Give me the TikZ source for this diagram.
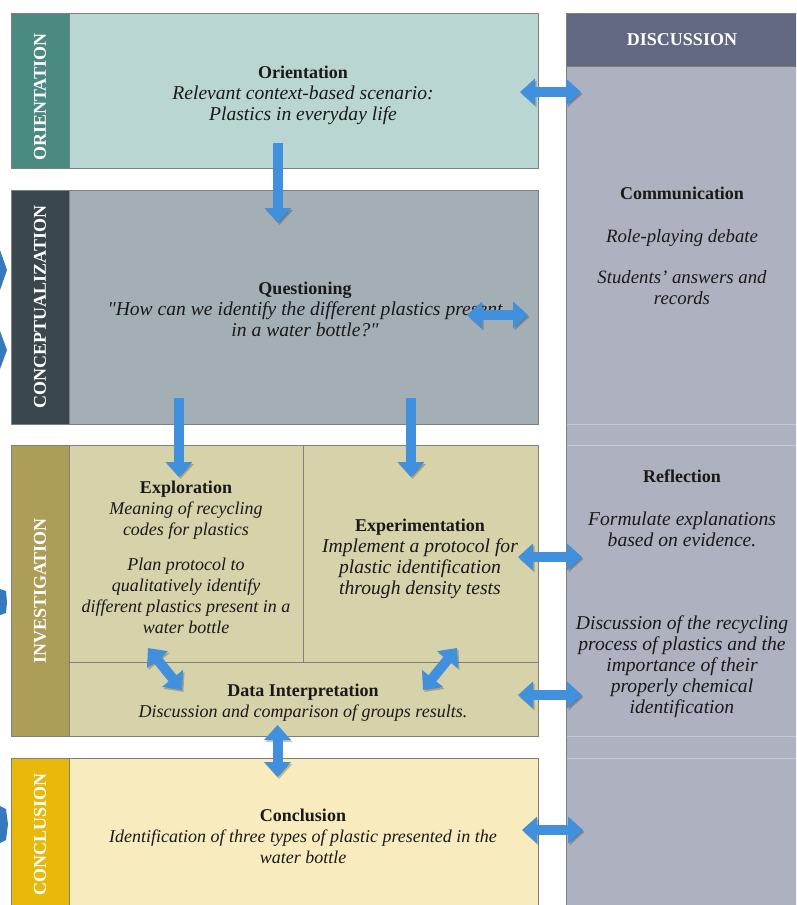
\documentclass[tikz,border=0pt]{standalone}
\usepackage{fontspec}
\setmainfont{Liberation Serif}[Ligatures=TeXOff]
\usetikzlibrary{arrows.meta}
\definecolor{orLblC}{HTML}{4A8A80}
\definecolor{orBodyC}{HTML}{B9D6D2}
\definecolor{coLblC}{HTML}{3A484E}
\definecolor{coBodyC}{HTML}{A4AFB5}
\definecolor{inLblC}{HTML}{AC9D58}
\definecolor{inBodyC}{HTML}{D6D2AA}
\definecolor{clLblC}{HTML}{E8B90A}
\definecolor{clBodyC}{HTML}{F8ECBE}
\definecolor{dsHeadC}{HTML}{636882}
\definecolor{dsBodyC}{HTML}{AEB1C0}
\definecolor{dsLineC}{HTML}{C6C8D4}
\definecolor{arrowC}{HTML}{4090DE}
\definecolor{edgeC}{HTML}{7F7F7F}
\tikzset{
  box/.style={draw=edgeC, line width=0.8pt, inner sep=0pt, outer sep=0pt, anchor=north west},
  lbltext/.style={text=white, font=\fontsize{18}{21}\selectfont\bfseries, rotate=90},
  bodytext/.style={align=center, text=black!90, font=\fontsize{18}{21}\selectfont\itshape, inner sep=0pt},
  widetext/.style={bodytext, font=\fontsize{19.6}{21}\selectfont\itshape},
  flow/.style={draw=arrowC, line width=10pt, -{Triangle[width=26pt,length=15pt]},
    preaction={draw=black, opacity=.22, transform canvas={xshift=1.5pt,yshift=-2pt}}},
  flowboth/.style={draw=arrowC, line width=10pt, {Triangle[width=26pt,length=15pt]}-{Triangle[width=26pt,length=15pt]},
    preaction={draw=black, opacity=.22, transform canvas={xshift=1.5pt,yshift=-2pt}}},
}
\newcommand{\ttl}[1]{{\fontsize{18}{21}\selectfont\upshape\bfseries #1}}
\begin{document}
\begin{tikzpicture}[x=1pt,y=-1pt]
\useasboundingbox (0,0) rectangle (796,905);
\clip (0,0) rectangle (796,905);
\fill[white] (0,0) rectangle (796,905);

% partial shapes at the left edge
\fill[arrowC!85!black] (0,250) -- (7,270) -- (0,290) -- cycle;
\fill[arrowC!85!black] (0,331) -- (7,350) -- (0,369) -- cycle;
\fill[arrowC!85!black] (0,589) -- (6,591) -- (7,602) -- (6,613) -- (0,615) -- cycle;
\fill[arrowC!85!black] (0,806) -- (6,809) -- (8,824) -- (6,840) -- (0,843) -- cycle;

% discussion column
\node[box, fill=dsBodyC, minimum width=240pt, minimum height=850pt] (dsBody) at (566,66) {};
\node[box, fill=dsHeadC, minimum width=240pt, minimum height=53pt] (dsHead) at (566,13) {};
\draw[dsLineC, line width=0.8pt] (567,424) -- (796,424) (567,445) -- (796,445) (567,736) -- (796,736) (567,758) -- (796,758);
\node[text=white, font=\fontsize{18}{21}\selectfont\bfseries] (dsTitle) at (682,40) {DISCUSSION};

% orientation
\node[box, fill=orBodyC, minimum width=469pt, minimum height=155pt] (orBody) at (69,13) {};
\node[box, fill=orLblC, minimum width=58pt, minimum height=155pt] (orLbl) at (11,13) {};
\node[lbltext] (orLblT) at (40,97) {ORIENTATION};
\node[widetext] (orT) at (303,95) {\ttl{Orientation}\\Relevant context-based scenario:\\Plastics in everyday life};

% conceptualization
\node[box, fill=coBodyC, minimum width=469pt, minimum height=234pt] (coBody) at (69,190) {};
\node[box, fill=coLblC, minimum width=58pt, minimum height=234pt] (coLbl) at (11,190) {};
\node[lbltext] (coLblT) at (40,307) {CONCEPTUALIZATION};
\node[widetext] (coT) at (305,309) {\ttl{Questioning}\\"How can we identify the different plastics present\\in a water bottle?"};

% investigation
\node[box, fill=inBodyC, minimum width=234pt, minimum height=217pt] (exBody) at (69,445) {};
\node[box, fill=inBodyC, minimum width=235pt, minimum height=217pt] (xpBody) at (303,445) {};
\node[box, fill=inBodyC, minimum width=469pt, minimum height=74pt] (diBody) at (69,662) {};
\node[box, fill=inLblC, minimum width=58pt, minimum height=291pt] (inLbl) at (11,445) {};
\node[lbltext] (inLblT) at (40,591) {INVESTIGATION};
\node[bodytext] (exT) at (186,557) {\ttl{Exploration}\\Meaning of recycling\\codes for plastics\\[14pt]Plan protocol to\\qualitatively identify\\different plastics present in a\\water bottle};
\node[widetext] (xpT) at (420,558.5) {\ttl{Experimentation}\\Implement a protocol for\\plastic identification\\through density tests};
\node[bodytext] (diT) at (303,703) {\ttl{Data Interpretation}\\Discussion and comparison of groups results.};

% conclusion
\node[box, fill=clBodyC, minimum width=469pt, minimum height=160pt] (clBody) at (69,758) {};
\node[box, fill=clLblC, minimum width=58pt, minimum height=160pt] (clLbl) at (11,758) {};
\node[lbltext] (clLblT) at (40,834) {CONCLUSION};
\node[bodytext] (clT) at (303,836) {\ttl{Conclusion}\\Identification of three types of plastic presented in the\\water bottle};

% discussion texts
\node[bodytext, font=\fontsize{18.8}{21}\selectfont\itshape] (cmT) at (682,245.5) {\ttl{Communication}\\[22pt]Role-playing debate\\[20pt]Students’ answers and\\records};
\node[widetext] (rfT) at (682,594) {\ttl{Reflection}\\[22pt]Formulate explanations\\based on evidence.\\[62pt]Discussion of the recycling\\process of plastics and the\\importance of their\\properly chemical\\identification};

% arrow end points
\coordinate (a1s) at (278,143); \coordinate (a1e) at (278,223);
\coordinate (a2s) at (520,92);  \coordinate (a2e) at (581,92);
\coordinate (a3s) at (467,315); \coordinate (a3e) at (528,315);
\coordinate (a4s) at (179,398); \coordinate (a4e) at (179,477);
\coordinate (a5s) at (411,398); \coordinate (a5e) at (411,477);
\coordinate (a6s) at (148,648); \coordinate (a6e) at (182,690);
\coordinate (a7s) at (457,648); \coordinate (a7e) at (423,690);
\coordinate (a8s) at (518,557); \coordinate (a8e) at (582,557);
\coordinate (a9s) at (518,695); \coordinate (a9e) at (582,695);
\coordinate (a10s) at (277.5,725); \coordinate (a10e) at (277.5,777);
\coordinate (a11s) at (522,830); \coordinate (a11e) at (583,830);

\draw[flow] (a1s) -- (a1e);
\draw[flowboth] (a2s) -- (a2e);
\draw[flowboth] (a3s) -- (a3e);
\draw[flow] (a4s) -- (a4e);
\draw[flow] (a5s) -- (a5e);
\draw[flowboth] (a6s) -- (a6e);
\draw[flowboth] (a7s) -- (a7e);
\draw[flowboth] (a8s) -- (a8e);
\draw[flowboth] (a9s) -- (a9e);
\draw[flowboth] (a10s) -- (a10e);
\draw[flowboth] (a11s) -- (a11e);
\end{tikzpicture}
\end{document}
